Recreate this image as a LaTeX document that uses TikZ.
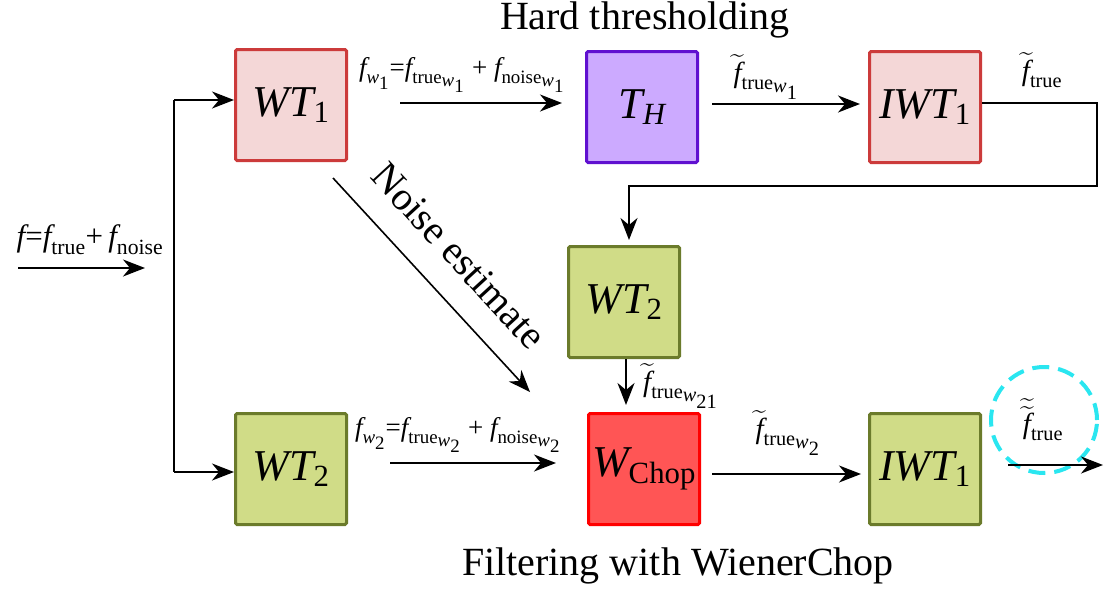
\RequirePackage{fix-cm}
\documentclass[tikz,border=0pt]{standalone}
\usepackage{amsmath}
\usepackage{fontspec}
\setmainfont{Liberation Serif}
\usetikzlibrary{arrows.meta}
\definecolor{pinkfill}{HTML}{F4D7D7}
\definecolor{pinkdraw}{HTML}{CC3B3B}
\definecolor{purpfill}{HTML}{CCAAFF}
\definecolor{purpdraw}{HTML}{6010D0}
\definecolor{grnfill}{HTML}{D0DC87}
\definecolor{grndraw}{HTML}{6B7B2B}
\definecolor{redfill}{HTML}{FF5555}
\definecolor{reddraw}{HTML}{FF0000}
\definecolor{cyanc}{HTML}{2AE6F0}
\newcommand{\mi}[1]{\textit{#1}}
\newcommand{\sbx}[1]{{\scriptstyle #1}}
\newcommand{\tf}{\widetilde{\mi{f}}}
\begin{document}
\begin{tikzpicture}[x=1pt,y=-1pt,
  blk/.style={draw, line width=3pt, minimum size=111pt, inner sep=0pt, rounded corners=1.5pt, font=\fontsize{44}{48}\selectfont},
  pinkblk/.style={blk, draw=pinkdraw, fill=pinkfill},
  purpblk/.style={blk, draw=purpdraw, fill=purpfill},
  grnblk/.style={blk, draw=grndraw, fill=grnfill},
  redblk/.style={blk, draw=reddraw, fill=redfill},
  arr/.style={-{Stealth[length=22pt,width=17pt,inset=7pt]}, line width=2pt},
  thin/.style={line width=2pt},
  lbl/.style={font=\fontsize{27}{30}\selectfont, inner sep=0pt},
  big/.style={font=\fontsize{40}{44}\selectfont, inner sep=0pt}
]
\useasboundingbox (0,0) rectangle (1110,595);

% blocks
\node[pinkblk] (wt1t) at (291,105) {$\mi{WT}_{\text{1}}$};
\node[purpblk] (th) at (642,107) {$\mi{T}_{\mi{H}}$};
\node[pinkblk] (iwt1t) at (925,107) {$\mi{IWT}_{\text{1}}$};
\node[grnblk] (wt2m) at (624,302) {$\mi{WT}_{\text{2}}$};
\node[grnblk] (wt2b) at (291,469) {$\mi{WT}_{\text{2}}$};
\node[redblk] (wchop) at (644,469) {$\mi{W}_{\text{Chop}}$};
\node[grnblk] (iwt1b) at (925,469) {$\mi{IWT}_{\text{1}}$};

% titles
\node[big] (title1) at (645,20) {Hard thresholding};
\node[big] (title2) at (678,566) {Filtering with WienerChop};
\node[big, rotate=-47.4] (noise) at (459,256) {Noise estimate};

% labels
\node[lbl, font=\fontsize{31}{34}\selectfont] (lin) at (90,240) {$\mi{f}\text{=}\mi{f}_{\text{true}}\text{+}\,\mi{f}_{\text{noise}}$};
\node[lbl] (l1) at (462,75) {$\mi{f}_{\mi{w}_{\sbx{\text{1}}}}\text{=}\mi{f}_{\text{true}_{\sbx{\mi{w}_{\sbx{\text{1}}}}}}\text{ + }\mi{f}_{\text{noise}_{\sbx{\mi{w}_{\sbx{\text{1}}}}}}$};
\node[lbl, font=\fontsize{29}{32}\selectfont] (l2) at (766,77) {$\tf_{\text{true}_{\sbx{\mi{w}_{\sbx{\text{1}}}}}}$};
\node[lbl, font=\fontsize{29}{32}\selectfont] (l3) at (1042,70) {$\tf_{\text{true}}$};
\node[lbl, anchor=west, font=\fontsize{29}{32}\selectfont] (l4) at (643,386) {$\tf_{\text{true}_{\sbx{\mi{w}_{\sbx{\text{21}}}}}}$};
\node[lbl] (l5) at (458,435) {$\mi{f}_{\mi{w}_{\sbx{\text{2}}}}\text{=}\mi{f}_{\text{true}_{\sbx{\mi{w}_{\sbx{\text{2}}}}}}\text{ + }\mi{f}_{\text{noise}_{\sbx{\mi{w}_{\sbx{\text{2}}}}}}$};
\node[lbl, font=\fontsize{29}{32}\selectfont] (l6) at (788,433) {$\tf_{\text{true}_{\sbx{\mi{w}_{\sbx{\text{2}}}}}}$};
\node[lbl, font=\fontsize{29}{32}\selectfont] (l7) at (1043,420) {$\widetilde{\tf}_{\text{true}}$};

% dashed circle
\node[draw=cyanc, circle, line width=4pt, dash pattern=on 17pt off 9pt, minimum size=106pt] (circ) at (1044,420) {};

% connectors
\coordinate (inS) at (18,268);
\coordinate (inE) at (145,268);
\draw[arr] (inS) -- (inE);
\coordinate (sp1) at (174,100);
\coordinate (sp2) at (174,472);
\draw[thin] (sp1) -- (sp2);
\draw[arr] (sp1) -- (sp1 -| wt1t.west);
\draw[arr] (sp2) -- (sp2 -| wt2b.west);

\coordinate (a1s) at (400,103);
\coordinate (a1e) at (562,103);
\draw[arr] (a1s) -- (a1e);
\draw[arr, shorten <=13pt, shorten >=8pt] (th.east |- 0,104) -- (iwt1t.west |- 0,104);

\coordinate (lp1) at (1097,103);
\coordinate (lp2) at (1097,186);
\coordinate (lp3) at (629,186);
\draw[arr, shorten >=5pt] (iwt1t.east |- lp1) -- (lp1) -- (lp2) -- (lp3) -- (lp3 |- wt2m.north);

\draw[arr, shorten >=7pt] (wt2m.south -| 626,0) -- (wchop.north -| 626,0);

\coordinate (ns) at (333,178);
\coordinate (ne) at (530,392);
\draw[arr, line width=1.6pt] (ns) -- (ne);

\coordinate (b1s) at (390,463);
\coordinate (b1e) at (556,463);
\draw[arr] (b1s) -- (b1e);
\draw[arr, shorten <=11pt, shorten >=7pt] (wchop.east |- 0,474) -- (iwt1b.west |- 0,474);

\coordinate (os) at (1008,465);
\coordinate (oe) at (1103,465);
\draw[arr] (os) -- (oe);
\end{tikzpicture}
\end{document}
